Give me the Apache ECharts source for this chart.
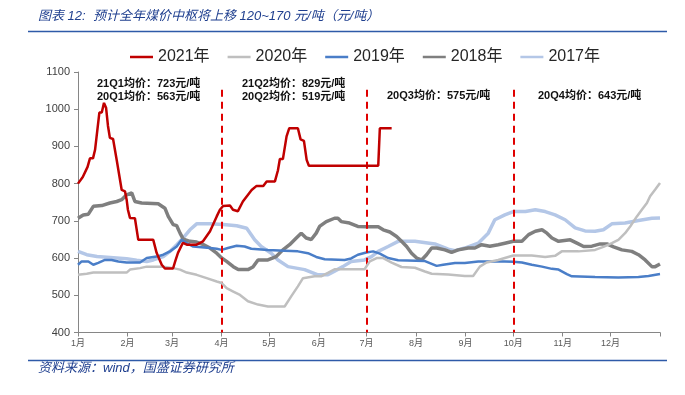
<!DOCTYPE html>
<html><head><meta charset="utf-8">
<script src="https://cdn.jsdelivr.net/npm/echarts@6/dist/echarts.min.js"></script>
<style>html,body{margin:0;padding:0;background:#fff}#c{width:685px;height:395px}</style>
</head><body><div id="c"></div>
<script>
// x = day of year (0 = 1 Jan), y = price 元/吨
const monthTicks = [0,31,59,90,120,151,181,212,243,273,304,334];
const monthLabels = ['1月','2月','3月','4月','5月','6月','7月','8月','9月','10月','11月','12月'];
const quarterLines = [90,181,273];

const s2021 = [[0,800],[1,800],[3,818],[6,845],[7.5,868],[9.4,868],[10.7,891],[13.4,991],[14.9,991],[16.3,1017],[17.6,1004],[18.8,955],[20,923],[22,920],[24.3,863],[27.4,783],[29.5,779],[30.5,757],[31.3,730],[32.6,708],[35.7,707],[37.8,649],[47.2,649],[49.3,614],[52.5,582],[54.5,572],[59.6,572],[61,592],[62.7,614],[65.8,641],[68.2,636],[74.4,636],[78.4,645],[82.8,672],[87,712],[89,730],[91,740],[95.3,741],[97.2,730],[100.3,726],[103.4,752],[108.9,783],[112,794],[116.2,794],[118.3,806],[123.5,806],[125.4,836],[126.6,866],[128.5,866],[130.8,927],[132.5,949],[137.9,949],[139.6,919],[141.7,915],[143.4,864],[144.8,848],[188.3,848],[189.3,949],[196.7,949]];

const s2020 = [[0,555],[5.5,558],[9.6,561],[30.5,561],[32.6,569],[38.9,573],[43.1,577],[53.5,577],[59.7,573],[64,569],[68.2,561],[74.4,555],[80.7,546],[87,537],[90.1,533],[93.2,519],[97.4,510],[101.6,501],[106.6,484],[112.9,475],[119.1,470],[129.6,470],[133.7,497],[137.9,524],[141.1,546],[148.4,551],[152.5,551],[156.7,560],[160.9,570],[179.7,570],[183,591],[187.3,600],[191.4,600],[196.7,588],[202.9,576],[211.3,574],[217.6,564],[221.8,558],[232.2,556],[242.6,552],[247.8,552],[252,577],[256.2,588],[263.5,595],[269.8,603],[273,607],[284.6,607],[293,603],[299.2,606],[303.4,618],[313.9,618],[324.3,622],[329.5,630],[334.8,640],[338.9,649],[343.1,667],[346.3,685],[350.5,712],[353.6,730],[356.8,748],[358.8,766],[362,784],[365,802]];

const s2019 = [[0,582],[2.3,591],[6.5,591],[9.6,582],[12.7,587],[16.9,595],[21.1,595],[25.3,591],[30.5,588],[38.9,588],[43.1,600],[49.3,604],[53.5,609],[57.7,618],[61.9,631],[65,649],[68.2,640],[72.3,631],[82.8,627],[87,625],[90.1,622],[94,627],[99.5,633],[104.5,631],[108.7,625],[119.1,622],[129.6,620],[137.9,618],[144.2,613],[149.4,603],[154.7,597],[167.2,595],[171.3,599],[175.5,609],[180.8,615],[185.1,618],[189.3,612],[194.5,600],[200.8,594],[217.6,592],[224.9,579],[229,582],[236.4,587],[242.6,587],[251,591],[255.2,591],[267.7,591],[273,590],[278.4,588],[284.6,582],[291,577],[297.2,571],[301.4,569],[306.6,557],[309.7,551],[324.3,549],[338.9,548],[351.5,549],[357.8,552],[365,557]];

const s2018 = [[0,707],[3.3,716],[6.5,718],[9.6,739],[14.9,741],[20,748],[24.3,752],[27.4,757],[30.5,770],[33.7,775],[35.7,752],[39.9,748],[50.3,746],[54.5,734],[56.6,712],[59.7,690],[61.9,687],[64,667],[66,651],[70.2,645],[74.4,643],[78.6,636],[82.8,627],[87,613],[90.1,600],[93.2,591],[97.4,577],[100.5,569],[106.6,569],[109.7,576],[112.9,595],[119.1,595],[124.3,604],[128.5,622],[132.7,636],[136.9,654],[140,667],[143.1,654],[146.3,650],[149.4,667],[151.5,685],[155.7,698],[160.9,707],[163,707],[165.1,698],[170.3,694],[175.5,685],[180.8,684],[188.3,684],[191.4,676],[195.6,670],[199.8,658],[202.9,645],[206.1,631],[209.2,613],[212.4,600],[215.5,595],[218.6,609],[221.8,627],[224.9,627],[230.1,622],[234.3,615],[238.4,622],[244.7,627],[248.9,627],[253.1,636],[258.3,632],[263.5,636],[267.7,640],[273,645],[278.4,645],[282.6,663],[286.8,672],[291,676],[294.1,667],[297.2,654],[301.4,645],[308.7,649],[312.9,640],[317.1,631],[322.3,632],[327.5,638],[331.7,638],[335.9,630],[341.1,622],[347.3,618],[351.5,609],[355.7,595],[359.9,577],[362,577],[365,584]];

const s2017 = [[0,618],[5.5,609],[11.9,604],[24.3,600],[30.5,598],[36.8,594],[43.1,591],[47.2,595],[53.5,604],[57.7,618],[61.9,636],[66,654],[70.2,676],[74.4,692],[82.8,692],[91.1,690],[99.5,687],[105.8,680],[110.8,649],[114.9,631],[121.2,613],[125.4,595],[131.7,577],[142.1,569],[150.5,555],[156.7,555],[160.9,565],[166.1,577],[171.3,591],[179.7,595],[184.1,604],[188.3,618],[194.5,631],[200.8,645],[211.3,645],[223.8,638],[232.2,624],[236.4,620],[242.6,627],[251,640],[257.3,667],[261.4,703],[267.7,716],[273,725],[280.6,725],[286.8,730],[293,725],[299.2,716],[305.5,703],[311.8,681],[318,673],[324.3,672],[329.5,676],[334.8,692],[343.1,694],[351.5,701],[359.9,707],[365,708]];

const notes = [
  {text:'21Q1均价：723元/吨', x:97, y:84},
  {text:'20Q1均价：563元/吨', x:97, y:97},
  {text:'21Q2均价：829元/吨', x:242, y:84},
  {text:'20Q2均价：519元/吨', x:242, y:97},
  {text:'20Q3均价：575元/吨', x:387, y:96},
  {text:'20Q4均价：643元/吨', x:538, y:96}
];

const chart = echarts.init(document.getElementById('c'), null, {renderer:'canvas'});
const FONT = '"Liberation Sans","Noto Sans CJK SC",sans-serif';

function mk(name, data, color, width, z) {
  return {name, type:'line', data, symbol:'none', showSymbol:false, z,
    lineStyle:{color, width}, itemStyle:{color}, animation:false};
}

const series = [
  mk('2017年', s2017, '#B4C7E7', 3.5, 2),
  mk('2018年', s2018, '#7F7F7F', 3.5, 3),
  mk('2019年', s2019, '#4A7EC8', 2.5, 4),
  mk('2020年', s2020, '#BFBFBF', 2.5, 5),
  mk('2021年', s2021, '#C00000', 2.5, 6)
];
series[4].markLine = {
  silent:true, symbol:['none','none'], label:{show:false},
  lineStyle:{color:'#E00000', type:[7,5], width:2},
  data: quarterLines.map(d => [{coord:[d,1052]},{coord:[d,400]}])
};

chart.setOption({
  animation:false,
  textStyle:{fontFamily:FONT},
  grid:{left:78, right:25, top:72, bottom:62.5},
  legend:{
    data:['2021年','2020年','2019年','2018年','2017年'],
    left:125, top:44, icon:'rect', itemWidth:23, itemHeight:2.5, itemGap:18,
    textStyle:{fontSize:16, color:'#262626', fontFamily:FONT}
  },
  xAxis:{
    type:'value', min:0, max:365,
    axisLine:{show:true, lineStyle:{color:'#868686', width:1}},
    axisTick:{show:true, customValues:monthTicks.concat([365]), length:4, lineStyle:{color:'#868686'}},
    axisLabel:{customValues:monthTicks, fontSize:9, color:'#595959', margin:7,
      formatter:v => monthLabels[monthTicks.indexOf(v)] || ''},
    splitLine:{show:false}
  },
  yAxis:{
    type:'value', min:400, max:1100, interval:100,
    axisLine:{show:true, lineStyle:{color:'#868686', width:1}},
    axisTick:{show:true, length:4, lineStyle:{color:'#868686'}},
    axisLabel:{fontSize:11, color:'#404040', margin:8, formatter:v => String(v)},
    splitLine:{show:false}
  },
  series,
  graphic:[
    {type:'text', left:38, top:10, style:{text:'图表 12:  预计全年煤价中枢将上移 120~170 元/吨（元/吨）', fill:'#1F3F8F', font:'italic 13px '+FONT}},
    {type:'line', shape:{x1:28, y1:31.5, x2:667, y2:31.5}, style:{stroke:'#2E5AA8', lineWidth:1.5}},
    {type:'line', shape:{x1:28, y1:360.5, x2:667, y2:360.5}, style:{stroke:'#2E5AA8', lineWidth:1.5}},
    {type:'text', left:38, top:362, style:{text:'资料来源：wind，国盛证券研究所', fill:'#1F3F8F', font:'italic 13px '+FONT}}
  ].concat(notes.map(n => ({type:'text', x:n.x, y:n.y, style:{text:n.text, fill:'#111', font:'bold 11px '+FONT, textVerticalAlign:'middle'}})))
});
</script></body></html>
